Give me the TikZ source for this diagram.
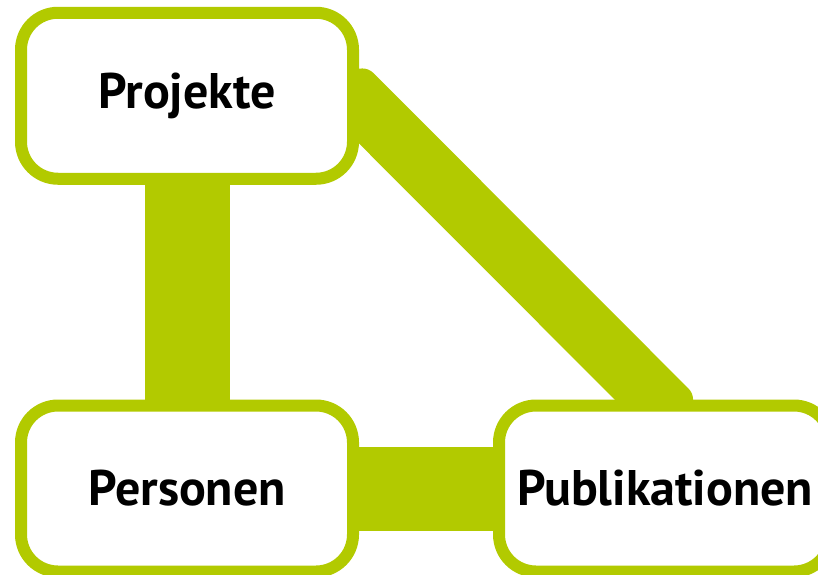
\documentclass[tikz,border=0pt]{standalone}
\usepackage{fontspec}
\setmainfont{PT Sans}
\usetikzlibrary{calc,backgrounds}
\definecolor{leaf}{RGB}{178,202,0}
\begin{document}
\begin{tikzpicture}[x=1pt,y=-1pt,
  topic/.style={draw=leaf, fill=white, line width=12pt, rounded corners=37pt,
    minimum width=332pt, minimum height=166pt, inner sep=0pt,
    font=\fontsize{50}{50}\selectfont\bfseries, text=black},
  bar/.style={draw=leaf, line width=#1},
  bar/.default=85pt]
  \useasboundingbox (0,0) rectangle (818,574);
  % topic boxes
  \node[topic] (proj) at (187,95.75) {Projekte};
  \node[topic] (pers) at (187,488.5) {Personen};
  \node[topic] (pub)  at (665,488.5) {Publikationen};
  % thick connectors, kept beneath the boxes
  \coordinate (d1) at (341,83);
  \coordinate (d2) at (678.5,421);
  \begin{scope}[on background layer]
    \fill[leaf, rounded corners=16pt]
      ($(d1)!30pt!90:(d2)$) -- ($(d2)!30pt!-90:(d1)$) --
      ($(d2)!30pt!90:(d1)$) -- ($(d1)!30pt!-90:(d2)$) -- cycle;
    \draw[bar] (proj.south) -- (pers.north);
    \draw[bar=84pt] (pers.east) -- (pub.west);
  \end{scope}
\end{tikzpicture}
\end{document}
